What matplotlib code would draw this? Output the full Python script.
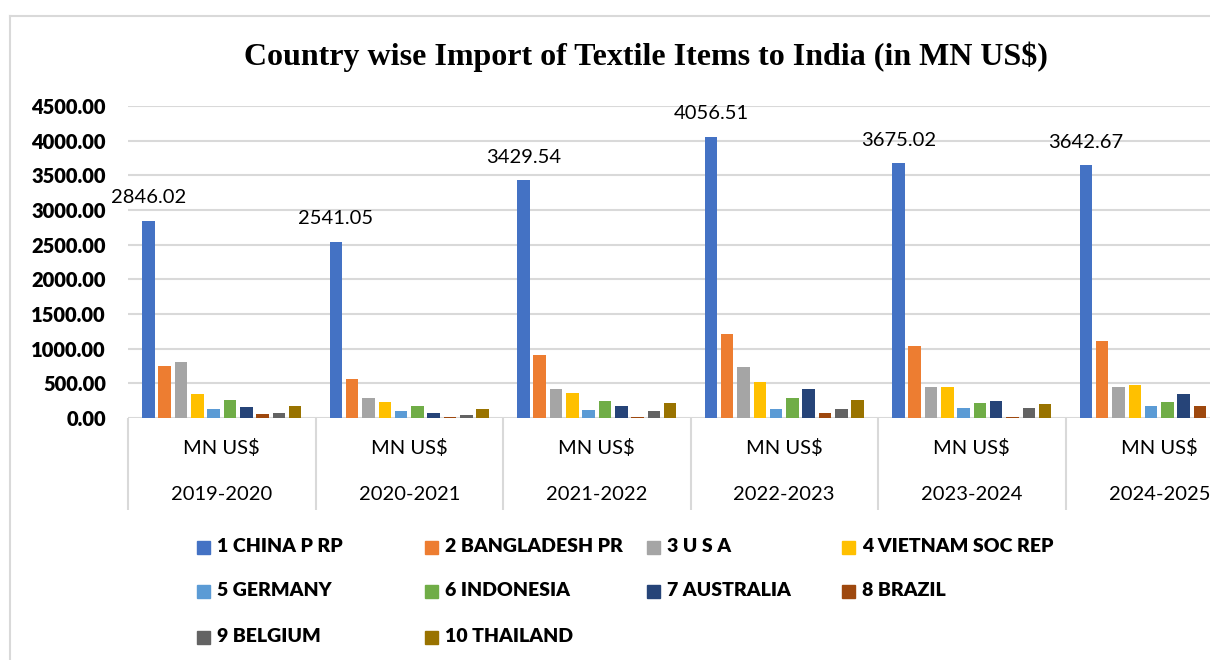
import numpy as np
import matplotlib.pyplot as plt
from matplotlib.patches import Rectangle
from matplotlib.lines import Line2D

# Import values, MN US$, per financial year
years = ['2019-2020', '2020-2021', '2021-2022', '2022-2023', '2023-2024', '2024-2025']
unit_label = 'MN US$'
countries = ['1 CHINA P RP', '2 BANGLADESH PR', '3 U S A', '4 VIETNAM SOC REP', '5 GERMANY',
             '6 INDONESIA', '7 AUSTRALIA', '8 BRAZIL', '9 BELGIUM', '10 THAILAND']
china = [2846.02, 2541.05, 3429.54, 4056.51, 3675.02, 3642.67]
bangladesh = [745, 565, 905, 1215, 1040, 1105]
usa = [805, 295, 420, 740, 445, 450]
vietnam = [345, 230, 365, 520, 450, 470]
germany = [130, 100, 115, 135, 140, 170]
indonesia = [255, 180, 250, 295, 220, 230]
australia = [155, 70, 180, 420, 250, 340]
brazil = [55, 15, 10, 65, 20, 180]
belgium = [72, 45, 95, 130, 150, 160]
thailand = [170, 130, 215, 265, 200, 220]
series = [china, bangladesh, usa, vietnam, germany, indonesia, australia, brazil, belgium, thailand]
y_ticks = [0, 500, 1000, 1500, 2000, 2500, 3000, 3500, 4000, 4500]

colors = ['#4472C4', '#ED7D31', '#A5A5A5', '#FFC000', '#5B9BD5',
          '#70AD47', '#264478', '#9E480E', '#636363', '#997300']
grid_col = '#d9d9d9'

W, H = 1210, 660
fig = plt.figure(figsize=(W / 100, H / 100), dpi=100)

# chart frame (cropped screenshot: only top and left edges visible)
fig.add_artist(Line2D([10 / W, 1], [1 - 16 / H, 1 - 16 / H], color=grid_col, lw=1.5))
fig.add_artist(Line2D([10 / W, 10 / W], [0, 1 - 16 / H], color=grid_col, lw=1.5))

# plot area runs past the right edge of the picture, like the reference
left_px, grp_px, bot_px, top_px = 128, 187.5, 418, 106
ax = fig.add_axes([left_px / W, 1 - bot_px / H, 6 * grp_px / W, (bot_px - top_px) / H])

pitch = 0.087
bar_w = 0.067
x = np.arange(len(years))
for k, (vals, c) in enumerate(zip(series, colors)):
    offs = 0.5 + (k - 4.5) * pitch
    ax.bar(x + offs, vals, width=bar_w, color=c, zorder=3)

# data labels for China
for xi, v in zip(x, china):
    ax.annotate(f'{v:.2f}', (xi + 0.5 - 4.5 * pitch, v), xytext=(0, 23), textcoords='offset pixels',
                ha='center', va='center', fontsize=14.5, family='Lato', color='#000000')

ax.set_xlim(0, len(years))
ax.set_ylim(0, 4500)
ax.set_yticks(y_ticks)
ax.set_yticklabels([f'{t:.2f}' for t in y_ticks], fontsize=14.5, fontweight='heavy', family='Lato')
ax.tick_params(axis='y', length=0, pad=16)
ax.set_xticks([])
ax.grid(axis='y', color=grid_col, lw=1.5, zorder=0)
for s in ax.spines.values():
    s.set_visible(False)

# two-level category axis
trans = ax.get_xaxis_transform()
ax.vlines(np.arange(len(years) + 1), -92 / (bot_px - top_px), 0, transform=trans,
          color=grid_col, lw=1.5, clip_on=False)
for xi, yr in zip(x, years):
    ax.annotate(unit_label, (xi + 0.5, 0), xycoords=trans, xytext=(0, -30), textcoords='offset pixels',
                ha='center', va='center', fontsize=14.5, family='Lato', annotation_clip=False)
    ax.annotate(yr, (xi + 0.5, 0), xycoords=trans, xytext=(0, -76), textcoords='offset pixels',
                ha='center', va='center', fontsize=14.5, family='Lato', annotation_clip=False)

fig.text(646 / W, 1 - 57 / H, 'Country wise Import of Textile Items to India (in MN US$)',
         ha='center', va='center', fontsize=23, fontweight='bold', family='Liberation Serif')

# legend, laid out like the reference
col_x = [197, 425, 647, 842]
row_y = [547, 591, 637]
layout = [(0, 0), (0, 1), (0, 2), (0, 3), (1, 0), (1, 1), (1, 2), (1, 3), (2, 0), (2, 1)]
for name, c, (r, cidx) in zip(countries, colors, layout):
    px, py = col_x[cidx], row_y[r]
    fig.add_artist(Rectangle((px / W, (H - py - 6.5) / H), 13 / W, 13 / H, color=c,
                             transform=fig.transFigure))
    fig.text((px + 20) / W, 1 - py / H, name, ha='left', va='center', fontsize=14,
             fontweight='heavy', family='Lato')

fig.savefig('out.png', dpi=100)
